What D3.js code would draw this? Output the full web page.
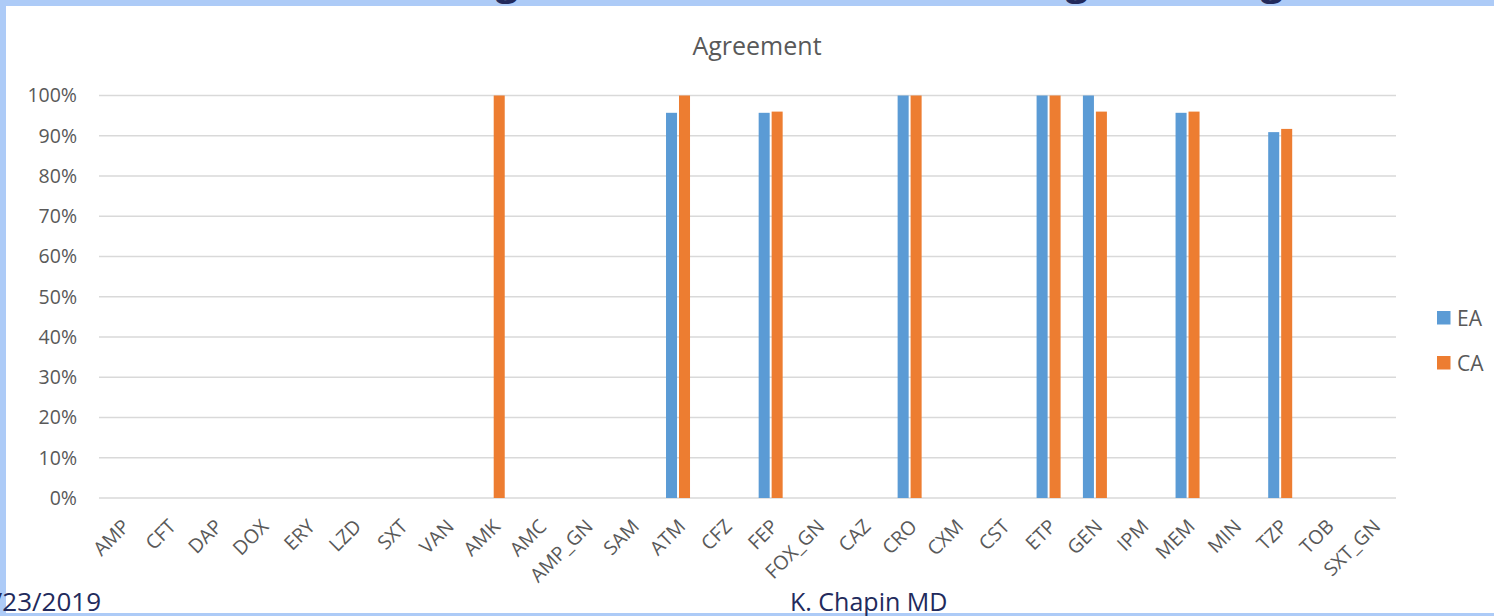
<!DOCTYPE html>
<html>
<head>
<meta charset="utf-8">
<script src="https://cdn.jsdelivr.net/npm/d3@7"></script>
<style>
  html, body { margin: 0; padding: 0; background: #ffffff; }
  svg { display: block; }
  text { font-family: "Open Sans", "Noto Sans", sans-serif; }
</style>
</head>
<body>
<svg id="chart" width="1494" height="616"></svg>
<script>
// ---- data ----
const categories = ["AMP","CFT","DAP","DOX","ERY","LZD","SXT","VAN","AMK","AMC","AMP_GN","SAM","ATM","CFZ","FEP","FOX_GN","CAZ","CRO","CXM","CST","ETP","GEN","IPM","MEM","MIN","TZP","TOB","SXT_GN"];
const seriesNames = ["EA","CA"];
const eaValues = [0,0,0,0,0,0,0,0,0,0,0,0,0.957,0,0.957,0,0,1.0,0,0,1.0,1.0,0,0.957,0,0.909,0,0];
const caValues = [0,0,0,0,0,0,0,0,1.0,0,0,0,1.0,0,0.96,0,0,1.0,0,0,1.0,0.96,0,0.96,0,0.917,0,0];
const yTicks = [0,0.1,0.2,0.3,0.4,0.5,0.6,0.7,0.8,0.9,1.0];
const chartTitle = "Agreement";
const footerDate = "9/23/2019";
const footerAuthor = "K. Chapin MD";
const slideTitleGlyphs = ["g","g","g"];
const slideTitleGlyphX = [507, 1077, 1272];

// ---- drawing ----
const svg = d3.select("#chart");
const W = 1494, H = 616;
const colors = {EA: "#5B9BD5", CA: "#ED7D31"};
const textGray = "#595959";
const navy = "#222A5C";
const frameBlue = "#ADCBF7";

// slide frame
svg.append("rect").attr("x",0).attr("y",0).attr("width",W).attr("height",H).attr("fill","#ffffff");
svg.append("rect").attr("x",0).attr("y",0).attr("width",W).attr("height",6).attr("fill",frameBlue);
svg.append("rect").attr("x",0).attr("y",0).attr("width",6).attr("height",H).attr("fill",frameBlue);
svg.append("rect").attr("x",0).attr("y",613).attr("width",W).attr("height",3).attr("fill",frameBlue);

// cut-off slide title descenders (the slide title lies above the picture)
svg.selectAll("text.slidetitle").data(slideTitleGlyphs).join("text")
  .attr("class","slidetitle")
  .attr("x",(d,i)=>slideTitleGlyphX[i]).attr("y",-5)
  .attr("text-anchor","middle")
  .attr("font-size",40).attr("font-weight",700)
  .attr("fill",navy).text(d=>d);

const plot = {left: 99, right: 1396, top: 95.5, bottom: 498};

const x0 = d3.scaleBand().domain(categories).range([plot.left, plot.right]).paddingInner(0).paddingOuter(0);
const bw = x0.bandwidth();
const x1 = d3.scaleBand().domain(seriesNames).range([bw/2 - 12, bw/2 + 12]).paddingInner(0.15).paddingOuter(0);
const y = d3.scaleLinear().domain([0,1]).range([plot.bottom, plot.top]);

// gridlines
svg.append("g").selectAll("line").data(yTicks).join("line")
  .attr("x1",plot.left).attr("x2",plot.right)
  .attr("y1",d=>y(d)).attr("y2",d=>y(d))
  .attr("stroke","#D9D9D9").attr("stroke-width",1.6);

// y axis labels
const yAxis = d3.axisLeft(y).tickValues(yTicks).tickFormat(d3.format(".0%")).tickSize(0).tickPadding(0);
const gy = svg.append("g").attr("transform",`translate(77,0)`).call(yAxis);
gy.select(".domain").remove();
gy.selectAll("text").attr("font-size",19.5).attr("fill",textGray).attr("font-family","'Open Sans', sans-serif");

// bars
const rows = categories.map((c,i)=>({cat:c, EA: eaValues[i], CA: caValues[i]}));
const groups = svg.append("g").selectAll("g").data(rows).join("g")
  .attr("transform",d=>`translate(${x0(d.cat)},0)`);
groups.selectAll("rect").data(d=>seriesNames.map(s=>({s, v:d[s]})).filter(e=>e.v>0)).join("rect")
  .attr("x",d=>x1(d.s)).attr("width",x1.bandwidth())
  .attr("y",d=>y(d.v)).attr("height",d=>y(0)-y(d.v))
  .attr("fill",d=>colors[d.s]);

// x axis labels
const xAxis = d3.axisBottom(x0).tickSize(0).tickPadding(0);
const gx = svg.append("g").attr("transform",`translate(0,${plot.bottom})`).call(xAxis);
gx.select(".domain").remove();
gx.selectAll("text")
  .attr("font-size",19.5).attr("fill",textGray).attr("font-family","'Open Sans', sans-serif")
  .attr("text-anchor","end")
  .attr("dy",null).attr("y",null)
  .attr("transform","translate(5,26) rotate(-45)")
  .attr("dominant-baseline","middle");

// chart title
svg.append("text").attr("x",757).attr("y",55).attr("text-anchor","middle")
  .attr("font-size",25).attr("fill",textGray).text(chartTitle);

// legend
const legend = svg.append("g").selectAll("g").data(seriesNames).join("g")
  .attr("transform",(d,i)=>`translate(1437,${311 + i*45})`);
legend.append("rect").attr("width",13.5).attr("height",13.5).attr("fill",d=>colors[d]);
legend.append("text").attr("x",20).attr("y",7).attr("dy","0.36em")
  .attr("font-size",21).attr("fill",textGray).text(d=>d);

// footer
svg.append("text").attr("x",101).attr("y",611).attr("text-anchor","end")
  .attr("font-size",26).attr("fill",navy).text(footerDate);
svg.append("text").attr("x",790).attr("y",611)
  .attr("font-size",25).attr("fill",navy).text(footerAuthor);
</script>
</body>
</html>
